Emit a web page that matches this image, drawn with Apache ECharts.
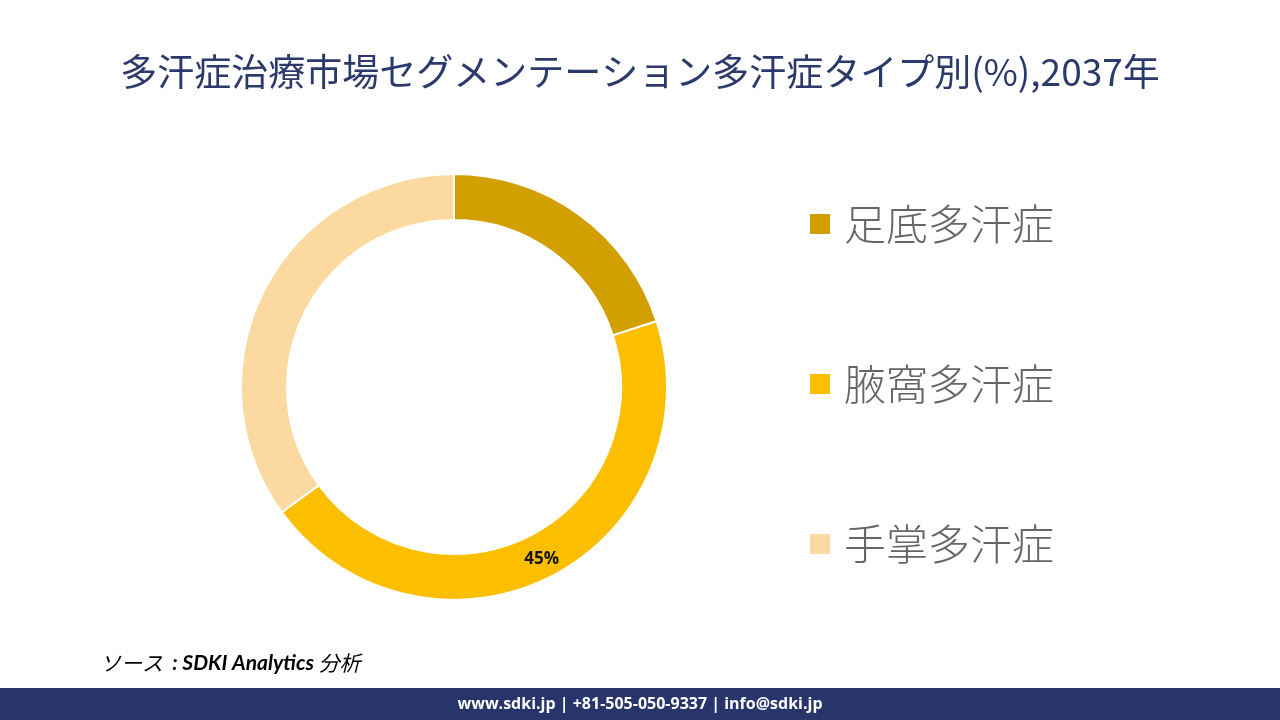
<!DOCTYPE html>
<html>
<head>
<meta charset="utf-8">
<script src="https://cdn.jsdelivr.net/npm/echarts@6/dist/echarts.min.js"></script>
<style>html,body{margin:0;padding:0;background:#fff}#c{width:1280px;height:720px}</style>
</head>
<body>
<div id="c"></div>
<script>
const categories = ['足底多汗症', '腋窩多汗症', '手掌多汗症'];
const values = [20, 45, 35];
const shownLabels = ['45%'];
const colors = ['#D1A000', '#FCBF00', '#FCD9A0'];

const chart = echarts.init(document.getElementById('c'));
chart.setOption({
  backgroundColor: '#ffffff',
  animation: false,
  title: {
    text: '多汗症治療市場セグメンテーション多汗症タイプ別(%),2037年',
    left: 'center',
    top: 48,
    textStyle: { fontFamily: '"Noto Sans CJK JP"', fontSize: 37, fontWeight: 'normal', color: '#2B3A6B' }
  },
  legend: {
    orient: 'vertical',
    left: 803,
    top: 197,
    itemWidth: 22,
    itemHeight: 22,
    itemGap: 116,
    icon: 'rect',
    data: categories,
    textStyle: { fontFamily: '"Noto Sans CJK JP"', fontSize: 42, fontWeight: 300, color: '#666666', lineHeight: 44, padding: [0, 0, 0, 8] }
  },
  series: [{
    type: 'pie',
    center: [454, 387],
    radius: [167, 213],
    startAngle: 90,
    clockwise: true,
    color: colors,
    itemStyle: { borderColor: '#ffffff', borderWidth: 2 },
    label: {
      show: true,
      position: 'inside',
      fontFamily: '"Open Sans", sans-serif',
      fontWeight: 'bold',
      fontSize: 17,
      color: '#111111',
      formatter: p => shownLabels.includes(p.value + '%') ? p.value + '%' : ''
    },
    labelLine: { show: false },
    emphasis: { disabled: true },
    data: categories.map((n, i) => ({ name: n, value: values[i] }))
  }],
  graphic: [
    { type: 'rect', shape: { x: 0, y: 688, width: 1280, height: 32 }, style: { fill: '#27356B' } },
    { type: 'text', x: 640, y: 704, style: { text: 'www.sdki.jp | +81-505-050-9337 | info@sdki.jp', fill: '#ffffff', font: 'bold 16px "Open Sans", sans-serif', textAlign: 'center', textVerticalAlign: 'middle' } },
    { type: 'text', x: 100, y: 663, style: {
        text: '{a|ソース }{b| : SDKI Analytics }{a|分析}',
        textAlign: 'left', textVerticalAlign: 'middle',
        rich: {
          a: { fill: '#000000', font: 'italic 21px "Noto Sans CJK JP", sans-serif' },
          b: { fill: '#000000', font: 'italic bold 21px Lato, sans-serif' }
        }
      } }
  ]
});
</script>
</body>
</html>
